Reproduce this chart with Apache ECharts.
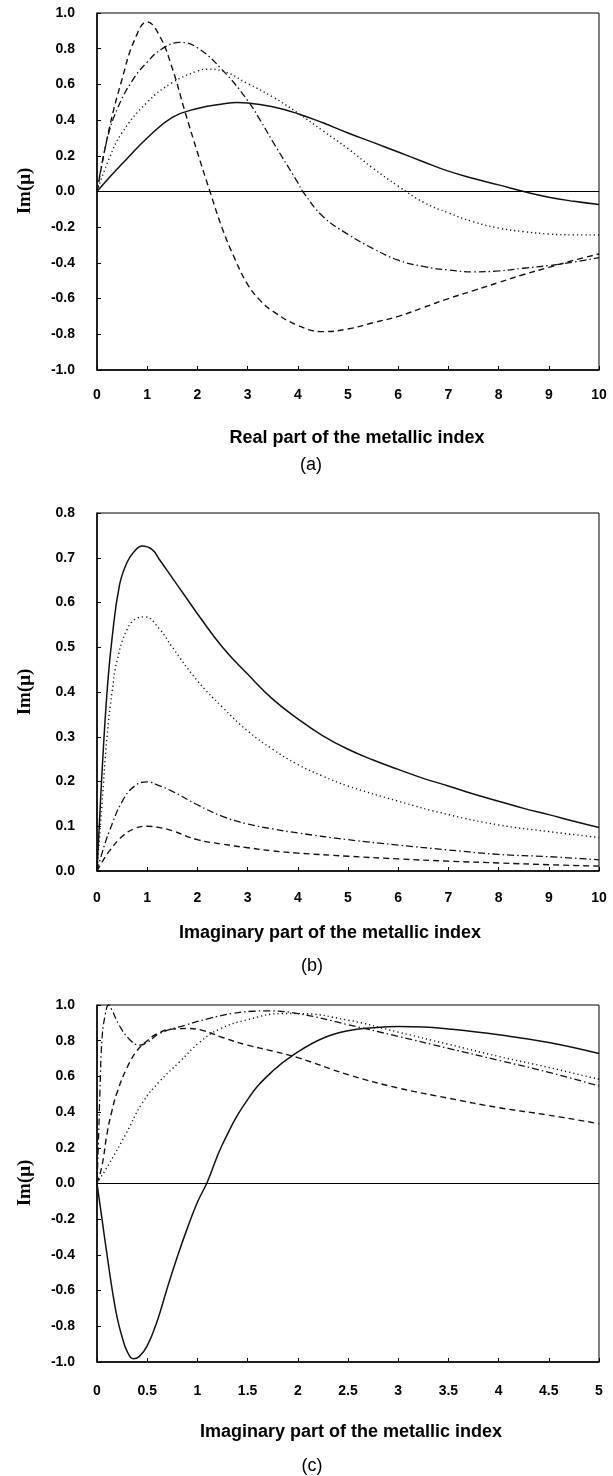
<!DOCTYPE html>
<html>
<head>
<meta charset="utf-8">
<title>Im(μ) vs metallic index</title>
<script src="https://cdn.jsdelivr.net/npm/echarts@6/dist/echarts.min.js"></script>
<style>
  html, body { margin: 0; padding: 0; background: #fff; }
  #chart { width: 613px; height: 1476px; }
</style>
</head>
<body>
<div id="chart"></div>
<script>
// panel (a): real part of the metallic index
const aSolidX = [0, 0.25, 0.5, 1, 1.5, 2, 2.5, 2.8, 3, 3.5, 4, 4.5, 5, 5.5, 6, 6.5, 7, 7.5, 8, 8.5, 9, 9.5, 10];
const aSolidY = [0, 0.08, 0.155, 0.3, 0.415, 0.465, 0.49, 0.498, 0.496, 0.475, 0.436, 0.385, 0.328, 0.275, 0.221, 0.167, 0.114, 0.073, 0.037, 0, -0.032, -0.055, -0.073];
const aDotX = [0, 0.25, 0.5, 1, 1.5, 2, 2.2, 2.5, 3, 3.5, 4, 4.5, 5, 5.5, 6, 6.5, 7, 7.5, 8, 8.5, 9, 9.5, 10];
const aDotY = [0, 0.19, 0.33, 0.5, 0.61, 0.675, 0.685, 0.675, 0.605, 0.53, 0.44, 0.34, 0.24, 0.13, 0.03, -0.06, -0.12, -0.17, -0.205, -0.225, -0.238, -0.243, -0.243];
const aDashDotX = [0, 0.2, 0.4, 0.7, 1, 1.3, 1.65, 2, 2.5, 3, 3.25, 3.5, 4, 4.1, 4.5, 5, 5.5, 6, 6.5, 7, 7.5, 8, 8.5, 9, 9.5, 10];
const aDashDotY = [0, 0.29, 0.46, 0.62, 0.725, 0.8, 0.835, 0.805, 0.68, 0.51, 0.4, 0.28, 0.05, 0, -0.14, -0.24, -0.32, -0.385, -0.42, -0.44, -0.45, -0.445, -0.43, -0.415, -0.395, -0.37];
const aDashX = [0, 0.25, 0.5, 0.75, 1, 1.25, 1.5, 1.75, 2, 2.25, 2.5, 2.75, 3, 3.25, 3.5, 4, 4.5, 5, 5.5, 6, 6.5, 7, 7.5, 8, 8.5, 9, 9.5, 10];
const aDashY = [0, 0.36, 0.63, 0.85, 0.95, 0.87, 0.69, 0.45, 0.22, 0, -0.21, -0.38, -0.52, -0.61, -0.67, -0.75, -0.785, -0.77, -0.735, -0.7, -0.65, -0.6, -0.555, -0.51, -0.465, -0.425, -0.385, -0.35];

// panel (b): imaginary part of the metallic index
const bSolidX = [0, 0.1, 0.2, 0.3, 0.45, 0.6, 0.75, 0.9, 1.1, 1.25, 1.5, 1.75, 2, 2.5, 3, 3.5, 4, 4.5, 5, 5.5, 6, 6.5, 7, 7.5, 8, 8.5, 9, 9.5, 10];
const bSolidY = [0, 0.22, 0.4, 0.52, 0.64, 0.69, 0.715, 0.726, 0.718, 0.695, 0.655, 0.615, 0.575, 0.5, 0.44, 0.384, 0.34, 0.302, 0.272, 0.248, 0.227, 0.207, 0.19, 0.172, 0.156, 0.14, 0.126, 0.111, 0.097];
const bDotX = [0, 0.1, 0.2, 0.3, 0.4, 0.6, 0.8, 0.95, 1.25, 1.5, 2, 2.5, 3, 3.5, 4, 4.5, 5, 6, 7, 8, 9, 10];
const bDotY = [0, 0.15, 0.3, 0.4, 0.47, 0.54, 0.565, 0.568, 0.54, 0.5, 0.425, 0.366, 0.313, 0.272, 0.238, 0.212, 0.19, 0.156, 0.126, 0.103, 0.088, 0.075];
const bDashDotX = [0, 0.1, 0.25, 0.5, 0.75, 1, 1.25, 1.5, 2, 2.5, 3, 3.5, 4, 5, 6, 7, 8, 9, 10];
const bDashDotY = [0, 0.04, 0.09, 0.155, 0.19, 0.199, 0.19, 0.178, 0.148, 0.122, 0.105, 0.094, 0.085, 0.07, 0.058, 0.047, 0.037, 0.032, 0.025];
const bDashX = [0, 0.1, 0.25, 0.5, 0.75, 1, 1.25, 1.5, 2, 2.5, 3, 3.5, 4, 5, 6, 7, 8, 9, 10];
const bDashY = [0, 0.02, 0.045, 0.077, 0.095, 0.1, 0.097, 0.09, 0.07, 0.06, 0.052, 0.045, 0.04, 0.033, 0.027, 0.022, 0.018, 0.014, 0.011];

// panel (c): imaginary part, 0..5
const cSolidX = [0, 0.05, 0.1, 0.15, 0.2, 0.25, 0.3, 0.36, 0.42, 0.5, 0.6, 0.7, 0.8, 0.9, 1, 1.1, 1.25, 1.5, 1.75, 2, 2.25, 2.5, 2.75, 3, 3.25, 3.5, 4, 4.5, 5];
const cSolidY = [0, -0.2, -0.4, -0.59, -0.75, -0.86, -0.94, -0.982, -0.97, -0.91, -0.77, -0.585, -0.41, -0.25, -0.105, 0.01, 0.22, 0.47, 0.63, 0.737, 0.814, 0.856, 0.872, 0.879, 0.877, 0.866, 0.833, 0.79, 0.728];
const cDotX = [0, 0.12, 0.29, 0.45, 0.62, 0.82, 1.02, 1.22, 1.5, 1.85, 2, 2.5, 3, 3.5, 4, 4.5, 5];
const cDotY = [0, 0.11, 0.28, 0.45, 0.57, 0.68, 0.79, 0.865, 0.918, 0.952, 0.952, 0.915, 0.848, 0.78, 0.712, 0.65, 0.584];
const cDashDotX = [0, 0.013, 0.03, 0.05, 0.08, 0.116, 0.15, 0.22, 0.32, 0.42, 0.5, 0.62, 0.88, 1.12, 1.35, 1.55, 1.7, 2, 2.5, 3, 3.5, 4, 4.5, 5];
const cDashDotY = [0, 0.21, 0.53, 0.81, 0.94, 1.0, 0.97, 0.887, 0.81, 0.775, 0.79, 0.84, 0.887, 0.925, 0.953, 0.965, 0.967, 0.952, 0.89, 0.824, 0.757, 0.69, 0.623, 0.546];
const cDashX = [0, 0.05, 0.1, 0.15, 0.2, 0.3, 0.4, 0.5, 0.6, 0.75, 0.9, 1.05, 1.25, 1.5, 1.75, 2, 2.5, 3, 3.5, 4, 4.5, 5];
const cDashY = [0, 0.1, 0.28, 0.41, 0.51, 0.65, 0.745, 0.8, 0.84, 0.865, 0.868, 0.858, 0.818, 0.775, 0.742, 0.705, 0.61, 0.535, 0.478, 0.425, 0.383, 0.335];

// axis titles and captions
const xTitles = ['Real part of the metallic index', 'Imaginary part of the metallic index', 'Imaginary part of the metallic index'];
const captions = ['(a)', '(b)', '(c)'];
const yTitle = 'Im(μ)';

const INK = '#111';
const FONT = '"Liberation Sans", Arial, sans-serif';

const lineTypes = {
  solid: { type: 'solid', width: 1.5 },
  dot: { type: [1.2, 3], width: 1.4 },
  dashdot: { type: [7, 3, 1.5, 3], width: 1.3 },
  dash: { type: [6, 4], width: 1.4 },
};

function zip(xs, ys) {
  return xs.map((x, i) => [x, ys[i]]);
}

function makeSeries(idx, xs, ys, kind, zeroLine) {
  let s = {
    type: 'line',
    xAxisIndex: idx,
    yAxisIndex: idx,
    data: zip(xs, ys),
    symbol: 'none',
    smooth: 0.45,
    silent: true,
    lineStyle: { color: INK, width: lineTypes[kind].width, type: lineTypes[kind].type },
  };
  if (zeroLine) {
    s.markLine = {
      silent: true,
      symbol: ['none', 'none'],
      label: { show: false },
      lineStyle: { color: '#000', width: 1, type: 'solid' },
      data: [{ yAxis: 0 }],
    };
  }
  return s;
}

function makeX(idx, max, interval, margin) {
  return {
    type: 'value',
    gridIndex: idx,
    min: 0,
    max: max,
    interval: interval,
    axisLine: { onZero: false, lineStyle: { color: '#000', width: 1.5 } },
    axisTick: { inside: true, length: 4, lineStyle: { color: '#000' } },
    axisLabel: { color: '#000', fontFamily: FONT, fontWeight: 'bold', fontSize: 14, margin: margin },
    splitLine: { show: false },
  };
}

function makeY(idx, min, max, interval) {
  return {
    type: 'value',
    gridIndex: idx,
    min: min,
    max: max,
    interval: interval,
    axisLine: { show: true, onZero: false, lineStyle: { color: '#000', width: 1.5 } },
    axisTick: { show: true, inside: true, length: 4, lineStyle: { color: '#000' } },
    axisLabel: {
      color: '#000', fontFamily: FONT, fontWeight: 'bold', fontSize: 14, margin: 22,
      formatter: v => v.toFixed(1),
    },
    splitLine: { show: false },
  };
}

const gridTops = [13, 513, 1005];
const gridHeights = [357, 358, 357];
const grids = gridTops.map((t, i) => ({
  left: 97, top: t, width: 502, height: gridHeights[i],
  show: true, borderColor: '#000', borderWidth: 1, backgroundColor: 'transparent',
}));

const titlePos = [[357, 438], [330, 933], [351, 1432]];
const captionPos = [[311, 465], [312, 966], [312, 1466]];
const yTitleY = [191, 692, 1183];

let graphics = [];
for (let i = 0; i < 3; i++) {
  graphics.push({
    type: 'text', x: titlePos[i][0], y: titlePos[i][1], silent: true,
    style: {
      text: xTitles[i], font: 'bold 18px ' + FONT, fill: '#000',
      textAlign: 'center', textVerticalAlign: 'middle', align: 'center', verticalAlign: 'middle',
    },
  });
  graphics.push({
    type: 'text', x: captionPos[i][0], y: captionPos[i][1], silent: true,
    style: {
      text: captions[i], font: '18px ' + FONT, fill: '#000',
      textAlign: 'center', textVerticalAlign: 'middle', align: 'center', verticalAlign: 'middle',
    },
  });
  graphics.push({
    type: 'text', x: 25, y: yTitleY[i], rotation: Math.PI / 2, silent: true,
    style: {
      text: yTitle, font: 'bold 19px "Liberation Serif", "Times New Roman", serif', fill: '#000',
      textAlign: 'center', textVerticalAlign: 'middle', align: 'center', verticalAlign: 'middle',
    },
  });
}

let option = {
  animation: false,
  backgroundColor: '#fff',
  grid: grids,
  xAxis: [makeX(0, 10, 1, 18), makeX(1, 10, 1, 20), makeX(2, 5, 0.5, 22)],
  yAxis: [makeY(0, -1, 1, 0.2), makeY(1, 0, 0.8, 0.1), makeY(2, -1, 1, 0.2)],
  graphic: graphics,
  series: [
    makeSeries(0, aSolidX, aSolidY, 'solid', true),
    makeSeries(0, aDotX, aDotY, 'dot'),
    makeSeries(0, aDashDotX, aDashDotY, 'dashdot'),
    makeSeries(0, aDashX, aDashY, 'dash'),
    makeSeries(1, bSolidX, bSolidY, 'solid'),
    makeSeries(1, bDotX, bDotY, 'dot'),
    makeSeries(1, bDashDotX, bDashDotY, 'dashdot'),
    makeSeries(1, bDashX, bDashY, 'dash'),
    makeSeries(2, cSolidX, cSolidY, 'solid', true),
    makeSeries(2, cDotX, cDotY, 'dot'),
    makeSeries(2, cDashDotX, cDashDotY, 'dashdot'),
    makeSeries(2, cDashX, cDashY, 'dash'),
  ],
};

let chart = echarts.init(document.getElementById('chart'));
chart.setOption(option);
</script>
</body>
</html>
